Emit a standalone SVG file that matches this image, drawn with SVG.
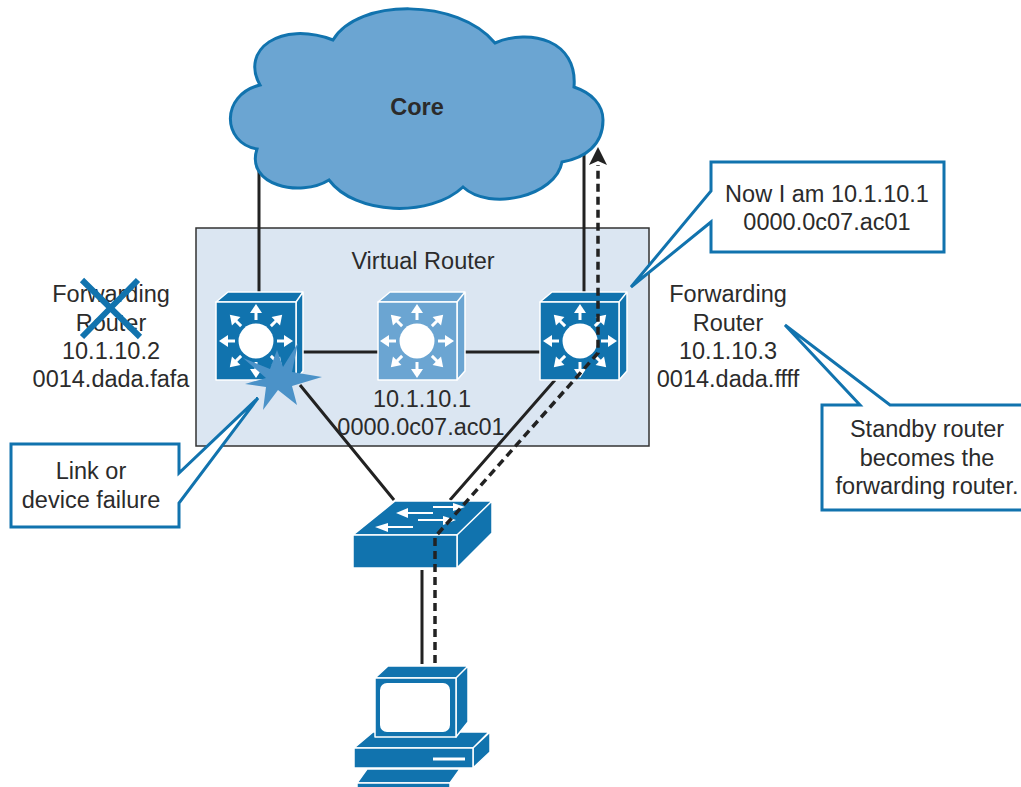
<svg xmlns="http://www.w3.org/2000/svg" width="1021" height="787" viewBox="0 0 1021 787">
<style>
text{font-family:"Liberation Sans",Arial,sans-serif;font-size:23.5px;fill:#2b2b2b;text-anchor:middle}
.b{fill:#1173ae;stroke:#fff;stroke-width:1.5;stroke-linejoin:round}
.l{fill:#6ba5d2;stroke:#fff;stroke-width:1.5;stroke-linejoin:round}
.c{fill:#fff;stroke:#1173ae;stroke-width:3;stroke-linejoin:miter}
.w{stroke:#222;stroke-width:3;fill:none}
.d{stroke:#222;stroke-width:3.5;fill:none;stroke-dasharray:8 5}
</style>
<defs>
<g id="arrows">
<circle r="17.5" fill="#fff"/>
<g id="a"><path d="M0-21V-30" stroke="#fff" stroke-width="3"/><path d="M-6-28L0-37L6-28Z" fill="#fff"/></g>
<use href="#a" transform="rotate(45)"/><use href="#a" transform="rotate(90)"/><use href="#a" transform="rotate(135)"/><use href="#a" transform="rotate(180)"/><use href="#a" transform="rotate(225)"/><use href="#a" transform="rotate(270)"/><use href="#a" transform="rotate(315)"/>
</g>
</defs>
<rect id="virtual-router" x="196" y="228" width="453" height="218" fill="#dbe6f2" stroke="#333" stroke-width="1.5"/>
<g id="connectors">
<path class="w" d="M259 165V292M584 150V292M303 352H378M457 352H540M300 385L394 500M555 380L450 500M422 570V664"/>
</g>
<g id="core">
<path d="M333 40C358 -2 458 -2 495 43C530 28 578 40 574 87C592 93 603 105 603 120C603 145 585 158 562 162C556 196 490 212 463 187C430 218 355 215 329 180C300 198 245 185 257 149C222 143 220 95 260 85C240 50 280 20 333 40Z" fill="#6ba5d2" stroke="#1173ae" stroke-width="3"/>
<text x="417" y="115" font-weight="bold">Core</text>
</g>
<g id="router-left">
<path class="b" d="M216 302L228 292H303L296 302ZM296 302L303 292V371L296 380Z"/><rect class="b" x="216" y="302" width="80" height="78"/>
<use href="#arrows" x="256" y="341"/>
</g>
<g id="router-virtual">
<path class="l" d="M378 302L390 292H465L457 302ZM457 302L465 292V371L457 380Z"/><rect class="l" x="378" y="302" width="79" height="78"/>
<use href="#arrows" x="417" y="341"/>
<text x="422" y="407">10.1.10.1</text><text x="421" y="435">0000.0c07.ac01</text>
</g>
<g id="router-right">
<path class="b" d="M540 302L552 292H627L619 302ZM619 302L627 292V371L619 380Z"/><rect class="b" x="540" y="302" width="79" height="78"/>
<use href="#arrows" x="580" y="341"/>
</g>
<g id="switch">
<path class="b" d="M353 535L395 501H492L457 535ZM457 535L492 501V533L457 568Z"/><rect class="b" x="353" y="535" width="104" height="33"/>
<path d="M433 506H453V503L465 507L453 511V508H433ZM433 512H408V508L396 513L408 518V514H433ZM418 519H443V516L456 520L443 525V521H418ZM413 526H388V523L375 527L388 532V528H413Z" fill="#fff"/>
</g>
<g id="pc">
<path class="b" d="M354 748L373 732H490L473 748ZM473 748L490 731V752L473 768Z"/><rect class="b" x="354" y="748" width="119" height="20"/>
<path d="M433 759H465" stroke="#fff" stroke-width="3"/>
<path class="b" d="M357 783L367 769H460L450 783Z"/>
<rect class="b" x="357" y="783" width="93" height="6"/>
<path class="b" d="M375 678L388 666H468L456 678ZM456 678L468 666V722L456 737Z"/><rect class="b" x="375" y="678" width="81" height="59"/>
<rect x="380" y="683" width="70" height="49" rx="7" fill="#fff"/>
</g>
<g id="failure">
<path d="M298 343L292 372L322 377L292 386L297 405L278 390L263 410L266 387L245 384L266 378L243 358L270 369L277 350L283 367Z" fill="#4b92c8"/>
</g>
<g id="data-path">
<path class="d" d="M435 663V537L598 353V165"/>
<path d="M598 147L607 165L598 161L589 165Z" fill="#222"/>
</g>
<g id="callout-now">
<path class="c" d="M711 162H944V252H711V222L631 287L711 191Z"/>
<text x="827" y="202">Now I am 10.1.10.1</text><text x="827" y="230">0000.0c07.ac01</text>
</g>
<g id="callout-standby">
<path class="c" d="M1023 405H890L785 325L860 405H822V510H1023"/>
<text x="927" y="437">Standby router</text><text x="927" y="466">becomes the</text><text x="927" y="494">forwarding router.</text>
</g>
<g id="callout-link">
<path class="c" d="M11 444H179V473L258 398L179 503V527H11Z"/>
<text x="91" y="479">Link or</text><text x="91" y="508">device failure</text>
</g>
<g id="label-left">
<text x="111" y="302">Forwarding</text><text x="111" y="331">Router</text><text x="111" y="359">10.1.10.2</text><text x="111" y="387">0014.dada.fafa</text>
<path d="M82 280L140 337M138 280L82 337" stroke="#1173ae" stroke-width="6"/>
</g>
<g id="label-right">
<text x="728" y="302">Forwarding</text><text x="728" y="331">Router</text><text x="728" y="359">10.1.10.3</text><text x="728" y="387">0014.dada.ffff</text>
</g>
<text x="423" y="269">Virtual Router</text>
</svg>
